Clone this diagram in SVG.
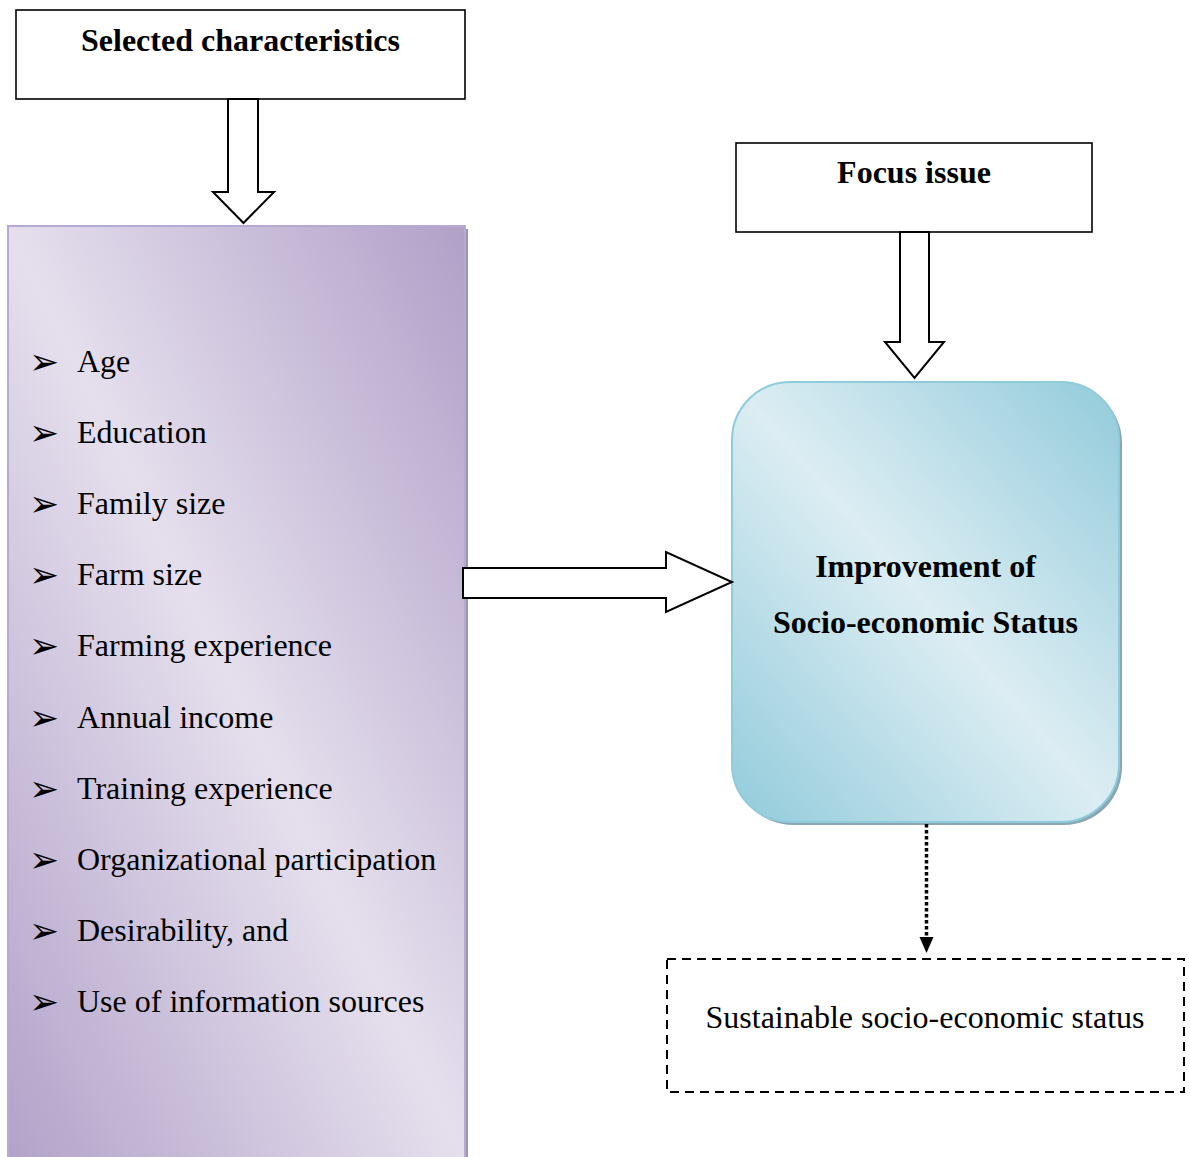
<svg xmlns="http://www.w3.org/2000/svg" width="1190" height="1157" viewBox="0 0 1190 1157">
<defs>
<linearGradient id="gPurple" x1="0" y1="1" x2="1" y2="0">
<stop offset="0" stop-color="#b2a2c9"/>
<stop offset="0.5" stop-color="#e5dfed"/>
<stop offset="1" stop-color="#b0a0c8"/>
</linearGradient>
<linearGradient id="gBlue" x1="0" y1="1" x2="1" y2="0">
<stop offset="0" stop-color="#92cbdb"/>
<stop offset="0.5" stop-color="#dcedf3"/>
<stop offset="1" stop-color="#92cbdb"/>
</linearGradient>
<style>
.box{fill:#fff;stroke:#000;stroke-width:1.6}
.title{font-family:"Liberation Serif","Times New Roman",serif;font-weight:bold;font-size:32px;fill:#000}
.item{font-family:"Liberation Serif","Times New Roman",serif;font-size:32px;fill:#000}
.bullet{font-family:"DejaVu Sans",sans-serif;font-size:36px;fill:#000}
.arrow{fill:#fff;stroke:#000;stroke-width:2;stroke-linejoin:miter}
</style>
</defs>

<g id="selected-characteristics">
<rect class="box" x="16" y="10" width="449" height="89"/>
<text class="title" x="240.5" y="51" text-anchor="middle">Selected characteristics</text>
</g>

<g id="characteristics-list">
<rect x="11" y="229" width="457" height="935" fill="#9e98ac"/>
<rect x="8" y="226" width="457" height="935" fill="url(#gPurple)" stroke="#b8a9d2" stroke-width="2"/>
<g class="bullet">
<text x="29" y="374">➢</text>
<text x="29" y="445.1">➢</text>
<text x="29" y="516.2">➢</text>
<text x="29" y="587.3">➢</text>
<text x="29" y="658.4">➢</text>
<text x="29" y="729.5">➢</text>
<text x="29" y="800.6">➢</text>
<text x="29" y="871.7">➢</text>
<text x="29" y="942.8">➢</text>
<text x="29" y="1013.9">➢</text>
</g>
<g class="item">
<text x="77" y="372">Age</text>
<text x="77" y="443.1">Education</text>
<text x="77" y="514.2">Family size</text>
<text x="77" y="585.3">Farm size</text>
<text x="77" y="656.4">Farming experience</text>
<text x="77" y="727.5">Annual income</text>
<text x="77" y="798.6">Training experience</text>
<text x="77" y="869.7">Organizational participation</text>
<text x="77" y="940.8">Desirability, and</text>
<text x="77" y="1011.9">Use of information sources</text>
</g>
</g>

<g id="focus-issue">
<rect class="box" x="736" y="143" width="356" height="89"/>
<text class="title" x="914" y="183" text-anchor="middle">Focus issue</text>
</g>

<g id="improvement">
<rect x="735" y="385" width="387" height="440" rx="58" ry="58" fill="#8aa7b1"/>
<rect x="732" y="382" width="387" height="440" rx="58" ry="58" fill="url(#gBlue)" stroke="#8ecbdb" stroke-width="2"/>
<text class="title" x="925.5" y="577" text-anchor="middle">Improvement of</text>
<text class="title" x="925.5" y="633" text-anchor="middle">Socio-economic Status</text>
</g>

<g id="sustainable">
<rect x="667" y="959" width="517" height="133" fill="none" stroke="#000" stroke-width="2" stroke-dasharray="9,6"/>
<text class="item" x="925" y="1028" text-anchor="middle">Sustainable socio-economic status</text>
</g>

<g id="connectors">
<polygon class="arrow" points="228,99 258,99 258,192 274,192 243.5,223 213,192 228,192"/>
<polygon class="arrow" points="900,232 929,232 929,342 944,342 914.5,378 885,342 900,342"/>
<polygon class="arrow" points="463,568 666,568 666,552 732,582 666,612 666,598 463,598"/>
<line x1="926.5" y1="824" x2="926.5" y2="938" stroke="#000" stroke-width="3.5" stroke-dasharray="3.5,2.5"/>
<polygon points="919.5,937 933.5,937 926.5,953" fill="#000"/>
</g>
</svg>
